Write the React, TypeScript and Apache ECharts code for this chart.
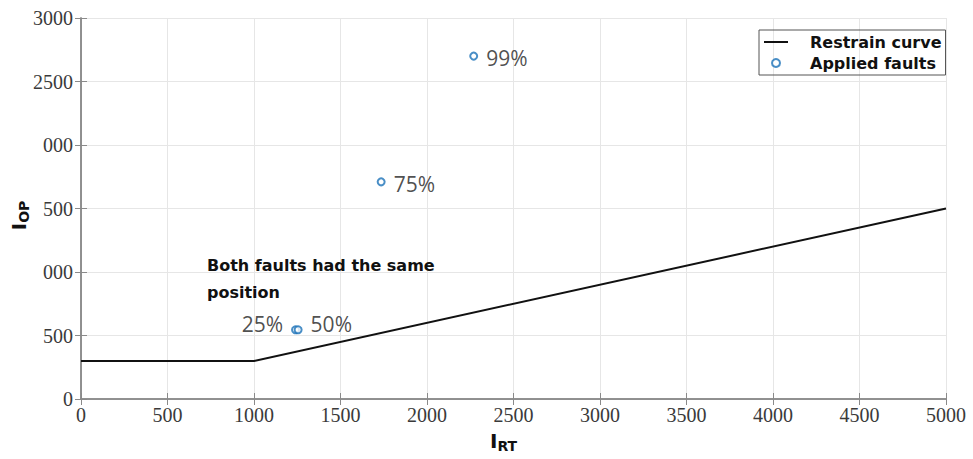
import React, { useEffect, useRef } from "react";
import * as echarts from "echarts";

const curveX = [0, 1000, 5000];
const curveY = [300, 300, 1500];

const faultX = [1240, 1255, 1735, 2270];
const faultY = [545, 545, 1710, 2700];
const faultLabels = ["25%", "50%", "75%", "99%"];
const faultLabelSide = ["left", "right", "right", "right"];

const yTickText: Record<number, string> = {
  0: "0",
  500: "500",
  1000: "000",
  1500: "500",
  2000: "000",
  2500: "2500",
  3000: "3000",
};

const annotation = "Both faults had the same\nposition";

export default function App() {
  const ref = useRef<HTMLDivElement>(null);
  useEffect(() => {
    if (!ref.current) return;
    const chart = echarts.init(ref.current, null, { renderer: "svg" });
    const axisColor = "#8a8a8a";
    const tickFont = { fontFamily: "Liberation Serif", fontSize: 20, color: "#3a3a3a" };
    const nameRich = {
      i: { fontFamily: "DejaVu Sans", fontWeight: "bold", fontSize: 20, color: "#111", lineHeight: 22, verticalAlign: "top" },
      s: { fontFamily: "DejaVu Sans", fontWeight: "bold", fontSize: 14, color: "#111", lineHeight: 16, verticalAlign: "bottom", padding: [11, 0, 0, 0] },
    };
    chart.setOption({
      animation: false,
      backgroundColor: "#fff",
      grid: { left: 81, right: 27, top: 18, bottom: 60, containLabel: false, outerBoundsMode: "none" },
      legend: {
        orient: "vertical",
        left: 759,
        top: 30,
        padding: [4, 4, 4, 4],
        itemGap: 5,
        itemWidth: 24,
        itemHeight: 8,
        borderColor: "#555",
        borderWidth: 1,
        textStyle: { fontFamily: "DejaVu Sans", fontWeight: "bold", fontSize: 16, color: "#111", padding: [0, 0, 0, 17] },
        data: [
          { name: "Restrain curve", itemStyle: { opacity: 0 }, lineStyle: { color: "#111", width: 2, opacity: 1 } },
          { name: "Applied faults" },
        ],
      },
      xAxis: [
        {
          type: "value",
          min: 0,
          max: 5000,
          interval: 500,
          name: "{i|I}{s|RT}",
          nameLocation: "middle",
          nameGap: 32,
          nameMoveOverlap: false,
          nameTextStyle: { rich: nameRich, padding: [0, 20, 0, 0] },
          axisLine: { show: true, lineStyle: { color: axisColor, width: 1.5 } },
          axisTick: { show: true, inside: true, length: 6, lineStyle: { color: axisColor } },
          axisLabel: { ...tickFont, margin: 6, formatter: (v: number) => String(v) },
          splitLine: { show: true, lineStyle: { color: "#e6e6e6", width: 1 } },
        },
        {
          type: "value",
          position: "top",
          min: 0,
          max: 5000,
          interval: 500,
          axisLine: { show: true, lineStyle: { color: axisColor, width: 1.5 } },
          axisTick: { show: true, inside: true, length: 6, lineStyle: { color: axisColor } },
          axisLabel: { show: false },
          splitLine: { show: false },
        },
      ],
      yAxis: [
        {
          type: "value",
          min: 0,
          max: 3000,
          interval: 500,
          name: "{i|I}{s|OP}",
          nameLocation: "middle",
          nameRotate: 90,
          nameGap: 50,
          nameMoveOverlap: false,
          nameTextStyle: { rich: nameRich, padding: [0, 14, 0, 0] },
          axisLine: { show: true, lineStyle: { color: axisColor, width: 1.5 } },
          axisTick: { show: true, inside: true, length: 6, lineStyle: { color: axisColor } },
          axisLabel: { ...tickFont, margin: 8, formatter: (v: number) => yTickText[v] ?? String(v) },
          splitLine: { show: true, lineStyle: { color: "#e6e6e6", width: 1 } },
        },
        {
          type: "value",
          position: "right",
          min: 0,
          max: 3000,
          interval: 500,
          axisLine: { show: true, lineStyle: { color: axisColor, width: 1.5 } },
          axisTick: { show: true, inside: true, length: 6, lineStyle: { color: axisColor } },
          axisLabel: { show: false },
          splitLine: { show: false },
        },
      ],
      series: [
        {
          name: "Restrain curve",
          type: "line",
          symbol: "none",
          lineStyle: { color: "#111", width: 2 },
          itemStyle: { color: "#111" },
          data: curveX.map((x, i) => [x, curveY[i]]),
          z: 3,
        },
        {
          name: "Applied faults",
          type: "scatter",
          symbol: "emptyCircle",
          symbolSize: 7,
          itemStyle: { color: "#1b72b8", borderColor: "#1b72b8", borderWidth: 2 },
          data: faultX.map((x, i) => ({
            value: [x, faultY[i]],
            label: {
              show: true,
              position: faultLabelSide[i],
              distance: 8,
              offset: i < 2 ? [0, -6] : [0, 2],
              formatter: faultLabels[i],
              fontFamily: "Open Sans",
              fontSize: 21,
              color: "#222",
            },
          })),
          z: 4,
        },
      ],
      graphic: [
        {
          type: "text",
          left: 207,
          top: 252,
          z: 100,
          style: {
            text: annotation,
            fontFamily: "DejaVu Sans",
            fontWeight: "bold",
            fontSize: 16,
            lineHeight: 27,
            fill: "#111",
          },
        },
      ],
    });
    return () => chart.dispose();
  }, []);
  return <div ref={ref} style={{ position: "fixed", left: 0, top: 0, width: 973, height: 459 }} />;
}
